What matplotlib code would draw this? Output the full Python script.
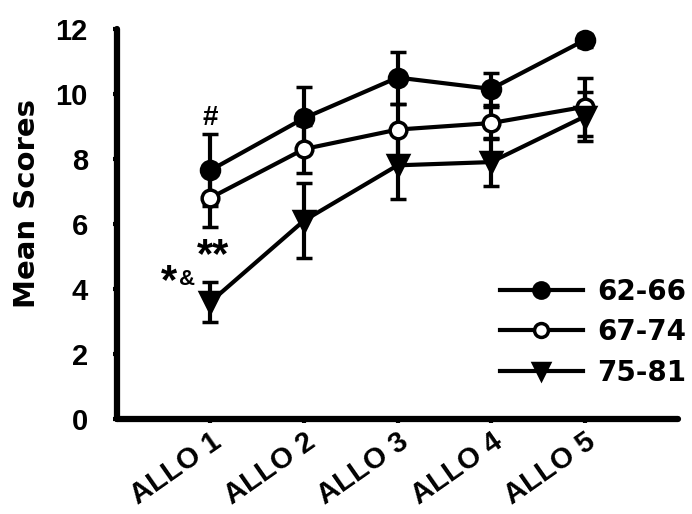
import numpy as np
import matplotlib.pyplot as plt
import matplotlib.transforms as mtrans
from matplotlib.lines import Line2D

plt.rcParams['font.family'] = ['Liberation Sans', 'DejaVu Sans']
plt.rcParams['font.weight'] = 'bold'

sessions = ['ALLO 1', 'ALLO 2', 'ALLO 3', 'ALLO 4', 'ALLO 5']
groups = ['62-66', '67-74', '75-81']
mean_6266 = [7.65, 9.25, 10.5, 10.15, 11.65]
err_6266 = [1.1, 0.95, 0.8, 0.5, 0.2]
mean_6774 = [6.8, 8.3, 8.9, 9.1, 9.6]
err_6774 = [0.9, 0.75, 0.8, 0.5, 0.9]
mean_7581 = [3.6, 6.1, 7.8, 7.9, 9.3]
err_7581 = [0.62, 1.15, 1.05, 0.73, 0.75]

x = np.arange(1, 6)

fig = plt.figure(figsize=(6.92, 5.14), dpi=100)
ax = fig.add_axes([0.169, 0.185, 0.811, 0.759])

lw = 3
styles = [('o', 'black', 13), ('o', 'white', 12), ('v', 'black', 14)]
handles = []
for (m, fc, ms), mean, err, lab in zip(styles, [mean_6266, mean_6774, mean_7581],
                                        [err_6266, err_6774, err_7581], groups):
    ax.errorbar(x, mean, yerr=err, color='black', lw=lw, elinewidth=lw,
                capsize=6, capthick=lw, marker=m, markersize=ms,
                markerfacecolor=fc, markeredgecolor='black', markeredgewidth=2.5,
                clip_on=False)
    # legend entries show only line + marker, no error bars
    handles.append(Line2D([], [], color='black', lw=lw, marker=m,
                          markersize=ms - 2, markerfacecolor=fc,
                          markeredgecolor='black', markeredgewidth=2.5, label=lab))

ax.set_xlim(0, 6)
ax.set_ylim(0, 12)
ax.set_yticks([0, 2, 4, 6, 8, 10, 12])
ax.set_xticks(x)
ax.set_xticklabels(sessions, rotation=35, ha='right', va='top', rotation_mode='anchor',
                   fontsize=21, fontweight='bold')
shift = mtrans.ScaledTranslation(-8 / 100, 0, fig.dpi_scale_trans)
for lbl in ax.get_xticklabels():
    lbl.set_transform(lbl.get_transform() + shift)
ax.tick_params(axis='y', labelsize=21, width=3, length=3, direction='out', pad=18)
ax.tick_params(axis='x', width=3, length=3, direction='out', pad=3)
for lbl in ax.get_yticklabels():
    lbl.set_fontweight('bold')
ax.set_ylabel('Mean Scores', fontsize=21, fontweight='bold', family='DejaVu Sans')
ax.yaxis.set_label_coords(-0.136, 0.551)

for side in ['top', 'right']:
    ax.spines[side].set_visible(False)
for side in ['left', 'bottom']:
    ax.spines[side].set_linewidth(4.5)
    ax.spines[side].set_capstyle('round')

# significance marks
ax.text(1, 9.25, '#', ha='center', va='center', fontsize=20, fontweight='bold')
ax.text(1.03, 5.0, '**', ha='center', va='center', fontsize=30, fontweight='bold')
ax.text(0.56, 4.22, '*', ha='center', va='center', fontsize=30, fontweight='bold')
ax.text(0.75, 4.3, '&', ha='center', va='center', fontsize=16, fontweight='bold')

fig.legend(handles=handles, loc='upper left', bbox_to_anchor=(0.722, 0.46),
           frameon=False, handlelength=3.0, handletextpad=0.5, labelspacing=0.45,
           borderpad=0, borderaxespad=0,
           prop={'weight': 'bold', 'size': 20, 'family': 'DejaVu Sans'})

fig.savefig('out.png', dpi=100)
